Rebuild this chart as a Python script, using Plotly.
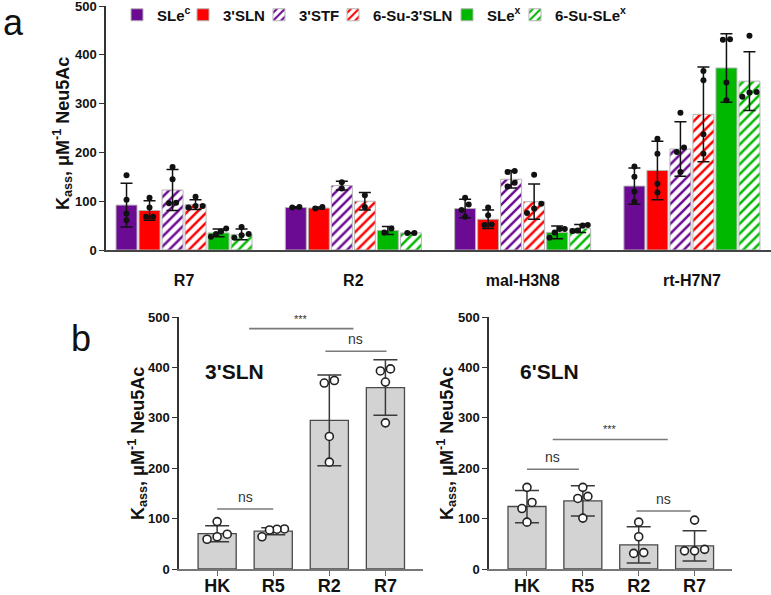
import numpy as np
import plotly.graph_objects as go

# ---------------- DATA: panel a ----------------
cats_a = ["R7", "R2", "mal-H3N8", "rt-H7N7"]
series_a = ["SLe<sup>c</sup>", "3'SLN", "3'STF", "6-Su-3'SLN", "SLe<sup>x</sup>", "6-Su-SLe<sup>x</sup>"]

mean_slec = [92, 87, 85, 131]
sd_slec = [45, 1.5, 19, 37]
pts_slec = [[153, 103, 75, 61], [87, 88], [107, 93, 82, 68], [171, 150, 120, 99]]

mean_3sln = [81, 86, 63, 163]
sd_3sln = [20, 2, 19, 60]
pts_3sln = [[107, 87, 68, 68], [85, 88], [87, 71, 52, 51], [228, 197, 136, 118]]

mean_3stf = [123, 132, 145, 207]
sd_3stf = [42, 9, 18, 56]
pts_3stf = [[170, 145, 97, 96], [139, 126], [160, 162, 138, 130], [281, 210, 201, 160]]

mean_6su3sln = [93, 100, 99, 278]
sd_6su3sln = [10, 18, 36, 97]
pts_6su3sln = [[109, 90, 87, 90], [112, 88], [154, 95, 85, 76], [367, 348, 237, 197]]

mean_slex = [35, 40, 36, 373]
sd_slex = [8, 8, 13, 70]
pts_slex = [[44, 38, 27, 33], [44, 36], [43, 36, 25, 43], [431, 432, 343, 307]]

mean_6suslex = [32, 35, 44, 346]
sd_6suslex = [11, 1, 8, 60]
pts_6suslex = [[47, 33, 25, 30], [35, 35], [51, 50, 40, 39], [439, 324, 323, 314]]

# ---------------- DATA: panel b ----------------
cats_b = ["HK", "R5", "R2", "R7"]

mean_b3 = [70, 75, 295, 360]
sd_b3 = [16, 7, 90, 55]
pts_b3 = [[94, 69, 59, 64], [79.5, 79, 77.5, 64], [369, 374, 263, 212], [393, 397, 371, 290]]

mean_b6 = [124, 135, 48, 46]
sd_b6 = [32, 30, 36, 30]
pts_b6 = [[162, 132, 120, 93], [162, 144, 140, 101], [93, 64, 31, 32.5], [97, 36, 39, 36]]

# significance brackets: (from index, to index, y value, label)
sig_b3 = [(0.57, 2.43, 477, "***"), (1.93, 3.02, 432, "ns"), (0.0, 1.0, 119, "ns")]
sig_b6 = [(0.46, 2.52, 257, "***"), (0.0, 0.93, 198, "ns"), (1.96, 2.93, 115, "ns")]

# ---------------- STYLE ----------------
FONT = "Liberation Sans, Arial, sans-serif"
PURPLE = "#6B0A93"
RED = "#FF0000"
GREEN = "#00B800"
series_style = [
    (PURPLE, ""), (RED, ""), (PURPLE, "/"), (RED, "/"), (GREEN, ""), (GREEN, "/"),
]
series_means = [mean_slec, mean_3sln, mean_3stf, mean_6su3sln, mean_slex, mean_6suslex]
series_sds = [sd_slec, sd_3sln, sd_3stf, sd_6su3sln, sd_slex, sd_6suslex]
series_pts = [pts_slec, pts_3sln, pts_3stf, pts_6su3sln, pts_slex, pts_6suslex]

SLOT_A = 0.1359
BARW_A = 0.124
BARW_B = 0.68


def jitter(vals, thr, d, maxspread):
    vals = np.asarray(vals, dtype=float)
    order = np.argsort(vals, kind="stable")
    offs = np.zeros(len(vals))
    clusters, cur = [], [order[0]]
    for k in order[1:]:
        if vals[k] - vals[cur[-1]] < thr:
            cur.append(k)
        else:
            clusters.append(cur)
            cur = [k]
    clusters.append(cur)
    for c in clusters:
        n = len(c)
        dd = d if n < 2 else min(d, maxspread / (n - 1))
        for m, k in enumerate(c):
            offs[k] = (m - (n - 1) / 2) * dd
    return offs


fig = go.Figure()

# ---- panel a bars ----
legend_names = ["legend", "legend2", "legend3", "legend4", "legend5", "legend6"]
for j, (name, (col, pat)) in enumerate(zip(series_a, series_style)):
    xs = [i + (j - 2.5) * SLOT_A for i in range(len(cats_a))]
    marker = dict(line=dict(color="#B5B5B5", width=1))
    if pat:
        marker["color"] = "white"
        marker["pattern"] = dict(shape=pat, fgcolor=col, bgcolor="white", size=7,
                                 solidity=0.36, fillmode="replace")
    else:
        marker["color"] = col
    fig.add_trace(go.Bar(
        x=xs, y=series_means[j], width=BARW_A, name=name, marker=marker,
        error_y=dict(type="data", array=series_sds[j], color="#111", thickness=1.5, width=6),
        xaxis="x", yaxis="y", legend=legend_names[j],
    ))

# ---- panel a points ----
for j in range(len(series_a)):
    px, py = [], []
    for i in range(len(cats_a)):
        vals = series_pts[j][i]
        offs = jitter(vals, 12, 0.042, 0.09)
        for v, o in zip(vals, offs):
            px.append(i + (j - 2.5) * SLOT_A + o)
            py.append(v)
    fig.add_trace(go.Scatter(
        x=px, y=py, mode="markers", showlegend=False,
        marker=dict(color="#111", size=6),
        xaxis="x", yaxis="y",
    ))

# ---- panel b ----
for (means, sds, pts, xa, ya) in [(mean_b3, sd_b3, pts_b3, "x2", "y2"),
                                  (mean_b6, sd_b6, pts_b6, "x3", "y3")]:
    fig.add_trace(go.Bar(
        x=list(range(len(cats_b))), y=means, width=BARW_B, showlegend=False,
        marker=dict(color="#D3D3D3", line=dict(color="#4A4A4A", width=1.3)),
        error_y=dict(type="data", array=sds, color="#3A3A3A", thickness=1.5, width=12),
        xaxis=xa, yaxis=ya,
    ))
    px, py = [], []
    for i, vals in enumerate(pts):
        offs = jitter(vals, 14, 0.18, 0.4)
        for v, o in zip(vals, offs):
            px.append(i + o)
            py.append(v)
    fig.add_trace(go.Scatter(
        x=px, y=py, mode="markers", showlegend=False,
        marker=dict(color="white", size=8, line=dict(color="#222", width=1.6)),
        xaxis=xa, yaxis=ya,
    ))

shapes, annotations = [], []
for sig, xr, yr in [(sig_b3, "x2", "y2"), (sig_b6, "x3", "y3")]:
    for x0, x1, yv, lab in sig:
        shapes.append(dict(type="line", xref=xr, yref=yr, x0=x0, x1=x1, y0=yv, y1=yv,
                           line=dict(color="#7A7A7A", width=1.6)))
        annotations.append(dict(xref=xr, yref=yr, x=(x0 + x1) / 2, y=yv, yshift=2,
                                text=lab, showarrow=False, yanchor="bottom",
                                font=dict(family=FONT, size=11 if lab == "***" else 14,
                                          color="#333")))

ytitle = "K<sub>ass</sub>, μM<sup>-1</sup> Neu5Ac"
W, H = 771, 595
for xp, yp in [(62, 134), (137, 444), (446, 444)]:
    annotations.append(dict(xref="paper", yref="paper", x=xp / W, y=1 - yp / H,
                            text=ytitle, textangle=-90, showarrow=False,
                            xanchor="center", yanchor="middle",
                            font=dict(family=FONT, size=18, color="#111", weight="bold")))
annotations.append(dict(xref="paper", yref="paper", x=13 / W, y=1, text="a",
                        showarrow=False, xanchor="center", yanchor="top",
                        font=dict(family=FONT, size=36, color="#111")))
annotations.append(dict(xref="paper", yref="paper", x=81 / W, y=1 - 338 / H, text="b",
                        showarrow=False, xanchor="center", yanchor="middle",
                        font=dict(family=FONT, size=36, color="#111")))
annotations.append(dict(xref="paper", yref="paper", x=203 / W, y=1 - 371 / H, text="3'SLN",
                        showarrow=False, xanchor="left", yanchor="middle",
                        font=dict(family=FONT, size=21, color="#111", weight="bold")))
annotations.append(dict(xref="paper", yref="paper", x=518 / W, y=1 - 371 / H, text="6'SLN",
                        showarrow=False, xanchor="left", yanchor="middle",
                        font=dict(family=FONT, size=21, color="#111", weight="bold")))

tickfont_bold = dict(family=FONT, size=13, color="#111", weight="bold")
axis_common = dict(showgrid=False, zeroline=False, showline=True, automargin=False,
                   ticklabeloverflow="allow")

layout = dict(
    width=W, height=H, margin=dict(l=0, r=0, t=0, b=0, autoexpand=False),
    paper_bgcolor="white", plot_bgcolor="white",
    barmode="overlay", font=dict(family=FONT),
    shapes=shapes, annotations=annotations,
    xaxis=dict(domain=[106 / W, 1.0], anchor="y", range=[-0.461, 3.467],
               tickvals=list(range(len(cats_a))), ticktext=cats_a, ticks="",
               ticklabelstandoff=15,
               tickfont=dict(family=FONT, size=16, color="#111", weight="bold"),
               linecolor="#444", linewidth=1.5, **axis_common),
    yaxis=dict(domain=[1 - 250 / H, 1 - 6 / H], anchor="x", range=[0, 500], dtick=100,
               ticks="outside", ticklen=5, tickwidth=1.3, tickcolor="#333",
               tickfont=tickfont_bold, linecolor="#333", linewidth=1.5, **axis_common),
    xaxis2=dict(domain=[179 / W, 423 / W], anchor="y2", range=[-0.68, 3.67],
                tickvals=list(range(len(cats_b))), ticktext=cats_b,
                ticks="outside", ticklen=5, tickcolor="#666", ticklabelstandoff=-5,
                tickfont=dict(family=FONT, size=18, color="#111", weight="bold"),
                linecolor="#777", linewidth=1.5, **axis_common),
    yaxis2=dict(domain=[1 - 569 / H, 1 - 317 / H], anchor="x2", range=[0, 500], dtick=100,
                ticks="outside", ticklen=5, tickcolor="#333", tickfont=tickfont_bold,
                linecolor="#333", linewidth=1.5, **axis_common),
    xaxis3=dict(domain=[489 / W, 732 / W], anchor="y3", range=[-0.68, 3.67],
                tickvals=list(range(len(cats_b))), ticktext=cats_b,
                ticks="outside", ticklen=5, tickcolor="#666", ticklabelstandoff=-5,
                tickfont=dict(family=FONT, size=18, color="#111", weight="bold"),
                linecolor="#777", linewidth=1.5, **axis_common),
    yaxis3=dict(domain=[1 - 569 / H, 1 - 317 / H], anchor="x3", range=[0, 500], dtick=100,
                ticks="outside", ticklen=5, tickcolor="#333", tickfont=tickfont_bold,
                linecolor="#333", linewidth=1.5, **axis_common),
)

# one small legend per series, placed along the top of panel a
legend_text_x = [155, 221, 297, 371, 485, 553]
for name, tx in zip(legend_names, legend_text_x):
    layout[name] = dict(x=(tx - 38) / W, y=1 - 15 / H, xanchor="left", yanchor="middle",
                        orientation="h", bgcolor="rgba(0,0,0,0)", borderwidth=0,
                        itemwidth=30,
                        font=dict(family=FONT, size=15, color="#111", weight="bold"))

fig.update_layout(**layout)
fig.write_html("out.html", config={"displayModeBar": False},
               post_script="document.body.style.margin='0';document.body.style.padding='0';"
                           "document.documentElement.style.overflow='hidden';")
